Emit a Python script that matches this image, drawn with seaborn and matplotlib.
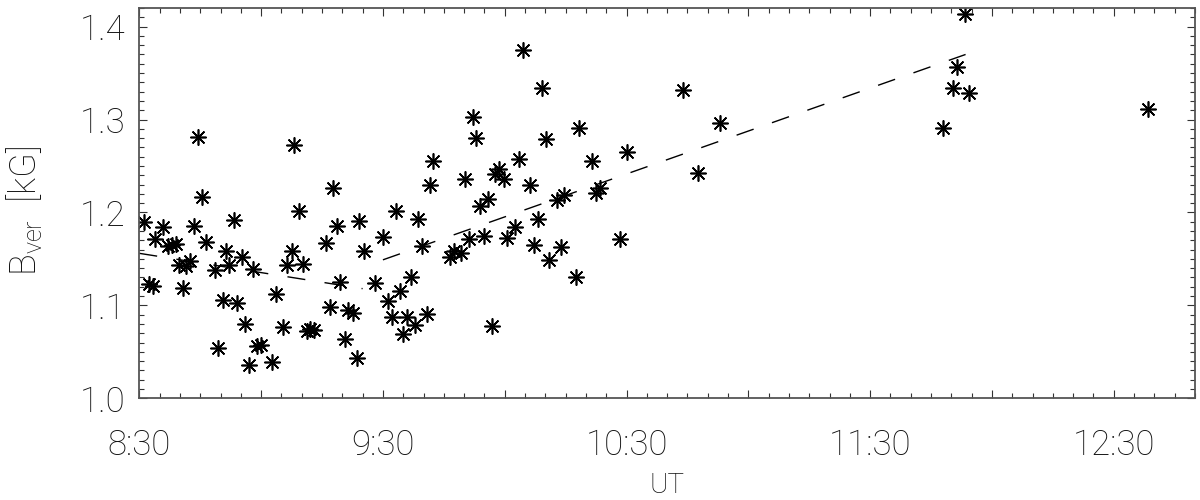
import numpy as np
import pandas as pd
import seaborn as sns
import matplotlib.pyplot as plt
from matplotlib.ticker import MultipleLocator, FuncFormatter

# observation times (minutes after 00:00 UT) and vertical field strength (kG)
ut_min = [511.2, 512.5, 513.3, 513.9, 515.9, 517.1, 518.0, 519.0, 519.8, 520.8,
          521.5, 522.5, 523.5, 524.5, 525.4, 526.4, 528.7, 529.5, 530.6, 531.4,
          532.2, 533.3, 534.1, 535.3, 536.0, 537.1, 538.1, 538.9, 539.9, 542.8,
          543.6, 545.5, 546.3, 547.6, 548.1, 549.4, 550.3, 551.2, 552.1, 553.0,
          556.0, 557.0, 557.8, 558.8, 559.5, 560.7, 561.5, 562.6, 563.6, 564.2,
          565.4, 568.1, 570.1, 571.2, 572.2, 573.1, 574.1, 574.9, 575.9, 576.9,
          577.8, 578.7, 579.7, 580.8, 581.6, 582.4, 586.4, 587.4, 589.2, 590.3,
          591.2, 592.1, 593.0, 594.0, 594.9, 595.8, 596.8, 597.5, 598.6, 599.7,
          600.5, 602.6, 603.4, 604.4, 606.3, 607.3, 608.2, 609.2, 610.1, 611.0,
          612.8, 613.8, 614.6, 617.6, 618.4, 621.5, 622.5, 623.5, 628.3, 630.2,
          644.0, 647.5, 652.9, 708.0, 710.3, 711.4, 714.3, 713.3, 758.5]
b_ver = [1.190, 1.123, 1.121, 1.171, 1.184, 1.164, 1.165, 1.166, 1.143, 1.119,
         1.142, 1.148, 1.185, 1.281, 1.217, 1.168, 1.138, 1.054, 1.106, 1.158,
         1.143, 1.192, 1.103, 1.152, 1.080, 1.036, 1.139, 1.056, 1.057, 1.039,
         1.112, 1.077, 1.143, 1.159, 1.273, 1.202, 1.145, 1.072, 1.075, 1.074,
         1.167, 1.098, 1.226, 1.185, 1.125, 1.064, 1.095, 1.092, 1.043, 1.191,
         1.159, 1.124, 1.174, 1.105, 1.087, 1.202, 1.116, 1.069, 1.088, 1.131,
         1.079, 1.193, 1.164, 1.091, 1.230, 1.255, 1.152, 1.158, 1.156, 1.236,
         1.171, 1.303, 1.280, 1.207, 1.175, 1.214, 1.078, 1.241, 1.247, 1.236,
         1.172, 1.184, 1.258, 1.375, 1.230, 1.165, 1.193, 1.334, 1.279, 1.149,
         1.213, 1.163, 1.219, 1.130, 1.291, 1.255, 1.221, 1.226, 1.171, 1.265,
         1.332, 1.242, 1.296, 1.291, 1.334, 1.356, 1.328, 1.414, 1.311]

# linear fits before and after 9:30
fit1_x = [510.0, 565.0]
fit1_y = [1.156, 1.118]
fit2_x = [570.0, 713.5]
fit2_y = [1.149, 1.370]

df = pd.DataFrame({"ut": ut_min, "b": b_ver})

sns.set_style("ticks")
plt.rcParams["font.family"] = ["Roboto", "DejaVu Sans"]
plt.rcParams["font.weight"] = "light"
plt.rcParams["axes.labelweight"] = "light"
plt.rcParams["mathtext.default"] = "regular"

fig = plt.figure(figsize=(12, 5), dpi=100)
ax = fig.add_axes([139.3 / 1200, 1 - 398.3 / 500, (1195 - 139.3) / 1200, (398.3 - 8) / 500])

sns.scatterplot(data=df, x="ut", y="b", ax=ax, marker=(8, 2, 0), s=120,
                color="black", linewidth=1.2)
ax.plot(fit1_x, fit1_y, color="black", lw=1.0, linestyle=(0, (13, 14)))
ax.plot(fit2_x, fit2_y, color="black", lw=1.0, linestyle=(0, (13, 14)))

ax.set_xlim(510, 770)
ax.set_ylim(1.0, 1.42)

def ut_fmt(m, pos):
    m = int(round(m))
    if (m - 30) % 60 != 0:
        return ""
    return f"{m // 60}:{m % 60:02d}"

ax.xaxis.set_major_locator(MultipleLocator(30))
ax.xaxis.set_minor_locator(MultipleLocator(5))
ax.xaxis.set_major_formatter(FuncFormatter(ut_fmt))
ax.yaxis.set_major_locator(MultipleLocator(0.1))
ax.yaxis.set_minor_locator(MultipleLocator(0.01))
ax.yaxis.set_major_formatter(FuncFormatter(lambda v, p: f"{v:.1f}"))

txt = "#111111"
ax.tick_params(which="both", direction="in", top=True, right=True,
               color="#333333", width=0.8)
ax.tick_params(which="major", length=6)
ax.tick_params(which="minor", length=3.6)
ax.tick_params(axis="x", which="major", pad=22, labelsize=25, labelcolor=txt)
ax.tick_params(axis="y", which="major", pad=10, labelsize=25, labelcolor=txt)
for sp in ax.spines.values():
    sp.set_color("#555555")
    sp.set_linewidth(1.3)

ax.set_xlabel("UT", fontsize=20, color=txt, fontweight="light")
ax.set_ylabel("B$_{ver}$  [kG]", fontsize=26, color=txt, fontweight="light")
ax.xaxis.set_label_coords(0.5, -0.19)
ax.yaxis.set_label_coords(-0.09, 0.48)

fig.savefig("out.png", dpi=100)
